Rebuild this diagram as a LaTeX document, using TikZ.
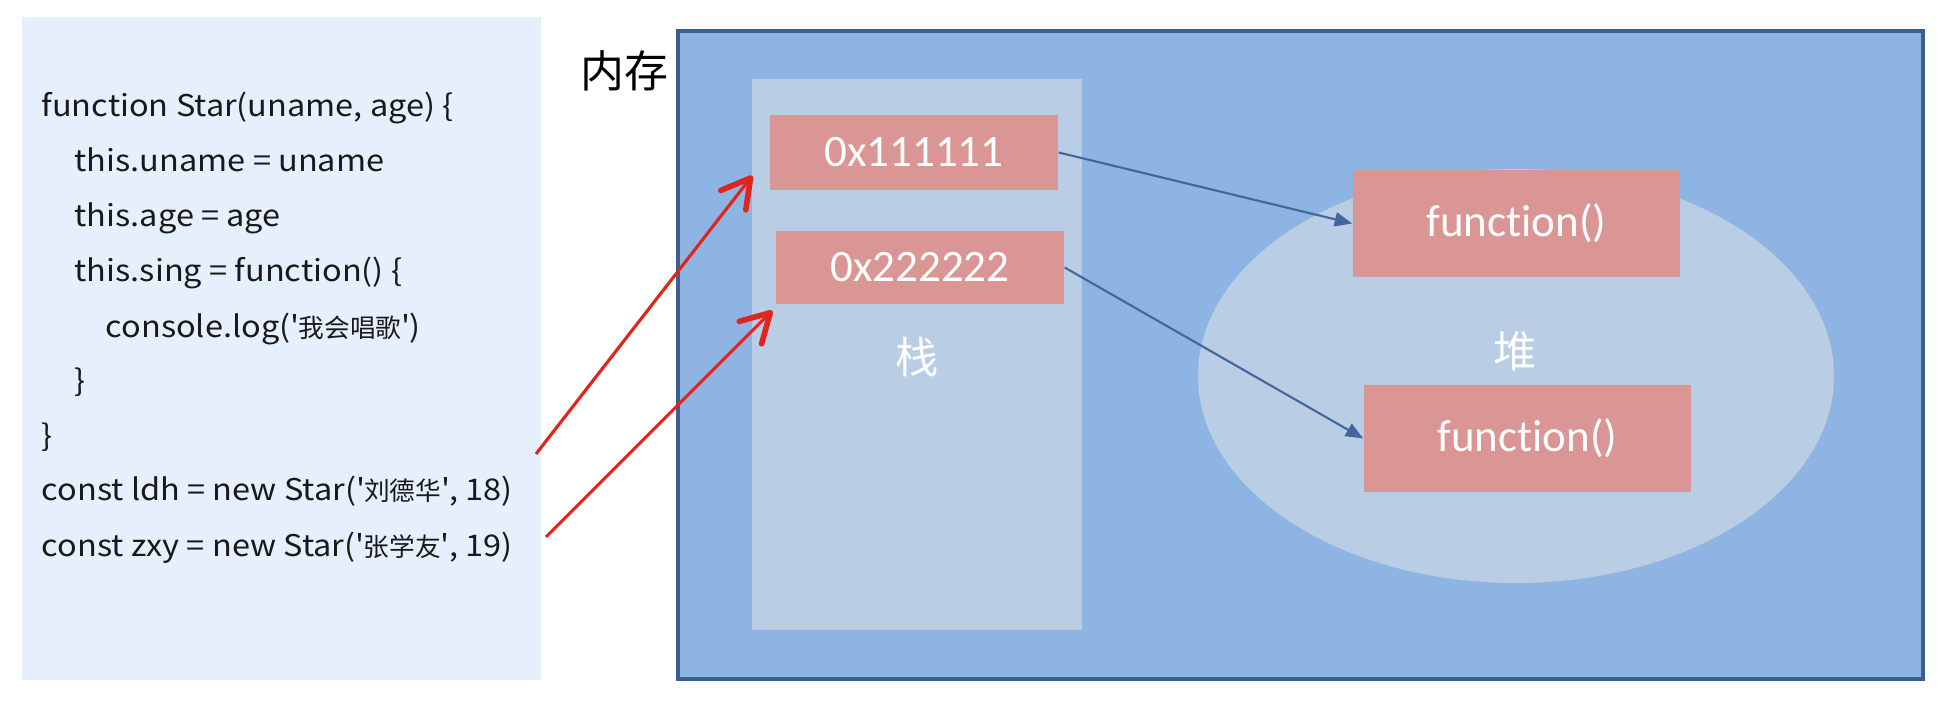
\documentclass[tikz,border=0pt]{standalone}
\usepackage{fontspec}
\setmainfont{Noto Sans CJK SC}
\newfontfamily\codefont{Noto Sans CJK SC}[FakeStretch=1.088]
\newfontfamily\boxfont{Carlito}[Ligatures=NoCommon]
\newcommand{\hanzi}[1]{{\normalfont\fontsize{7.3}{10}\selectfont #1}}
\usetikzlibrary{calc,arrows.meta,shapes.geometric}
\definecolor{codebg}{HTML}{E6F0FD}
\definecolor{memfill}{HTML}{8EB4E3}
\definecolor{memborder}{HTML}{3C5F8C}
\definecolor{stackfill}{HTML}{B9CDE5}
\definecolor{cellfill}{HTML}{D99694}
\definecolor{ptrblue}{HTML}{41679E}
\definecolor{penred}{HTML}{E0261C}
\tikzset{
	codeline/.style={anchor=base west, inner sep=0, text=black!90, font=\codefont\fontsize{8.5}{10}\selectfont},
	cellbox/.style={fill=cellfill, text=white, inner sep=0, font=\boxfont\fontsize{12.8}{14}\selectfont},
	ptr/.style={draw=ptrblue, line width=0.6pt, -{Triangle[length=5pt, width=4pt]}},
	pen/.style={draw=penred, line width=0.9pt, -{Straight Barb[length=8pt, width=9pt, line width=1.6pt, round]}}
}

\begin{document}
\begin{tikzpicture}
	%%%%% START %%%%%
	\useasboundingbox (0, 0) rectangle (19.45, 7.01);
	
	% code panel
	\fill[codebg] (0.22, 0.21) rectangle (5.41, 6.84);
	\node[codeline] (c1) at (0.41, 5.84) {function Star(uname, age) \{};
	\node[codeline] (c2) at (0.74, 5.29) {this.uname = uname};
	\node[codeline] (c3) at (0.74, 4.74) {this.age = age};
	\node[codeline] (c4) at (0.74, 4.19) {this.sing = function() \{};
	\node[codeline] (c5) at (1.05, 3.64) {console.log(\textquotesingle\hanzi{我会唱歌}\textquotesingle)};
	\node[codeline] (c6) at (0.74, 3.09) {\}};
	\node[codeline] (c7) at (0.41, 2.55) {\}};
	\node[codeline] (c8) at (0.41, 2.00) {const ldh = new Star(\textquotesingle\hanzi{刘德华}\textquotesingle, 18)};
	\node[codeline] (c9) at (0.41, 1.45) {const zxy = new Star(\textquotesingle\hanzi{张学友}\textquotesingle, 19)};
	
	% memory
	\node[font=\fontsize{12.5}{14}\selectfont] (mem) at (6.24, 6.30) {内存};
	\draw[line width=1.4pt, draw=memborder, fill=memfill] (6.78, 0.22) rectangle (19.23, 6.70);
	
	% stack
	\fill[stackfill] (7.52, 0.71) rectangle (10.82, 6.22);
	\node[cellbox, minimum width=2.88cm, minimum height=0.75cm] (addr1) at (9.14, 5.485) {0x111111};
	\node[cellbox, minimum width=2.88cm, minimum height=0.73cm] (addr2) at (9.20, 4.335) {0x222222};
	\node[text=white, font=\fontsize{12.3}{14}\selectfont] (stack) at (9.17, 3.44) {栈};
	
	% heap
	\node[ellipse, fill=stackfill, inner sep=0, minimum width=6.36cm, minimum height=4.14cm] (heap) at (15.16, 3.25) {};
	\node[text=white, font=\fontsize{12.3}{14}\selectfont] (heaplabel) at (15.15, 3.50) {堆};
	\node[cellbox, minimum width=3.27cm, minimum height=1.07cm] (fn1) at (15.165, 4.775) {function()};
	\node[cellbox, minimum width=3.27cm, minimum height=1.07cm] (fn2) at (15.275, 2.625) {function()};
	
	\draw[ptr] (addr1.east) -- (fn1.west);
	\draw[ptr] (addr2.east) -- (fn2.west);
	
	% pen marks
	\coordinate (ldh) at (5.36, 2.47);
	\coordinate (zxy) at (5.46, 1.64);
	\draw[pen] (ldh) -- ($(addr1.south west)+(-0.17, 0.15)$);
	\draw[pen] (zxy) -- ($(addr2.south west)+(-0.03, -0.06)$);
	%%%%% END %%%%%
\end{tikzpicture}
\end{document}
